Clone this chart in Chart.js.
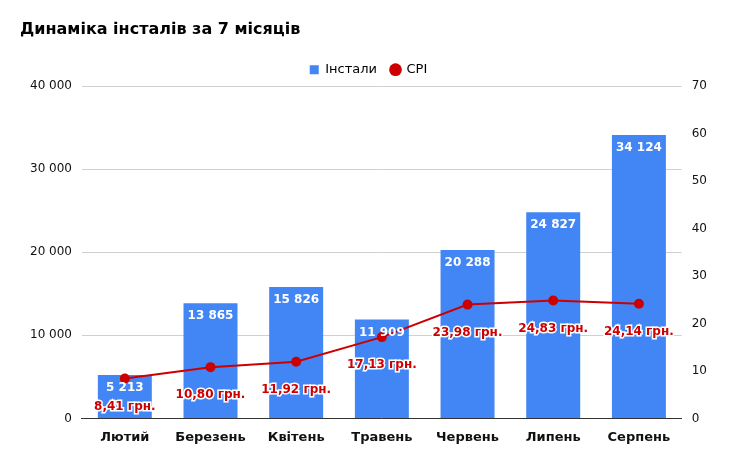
<!DOCTYPE html>
<html><head><meta charset="utf-8">
<script src="https://cdn.jsdelivr.net/npm/chart.js@4"></script>
<style>body{margin:0;background:#fff}#w{width:745px;height:462px;position:relative}</style>
</head><body><div id="w"><canvas id="c"></canvas></div>
<script>
const categories=["Лютий","Березень","Квітень","Травень","Червень","Липень","Серпень"];
const installs=[5213,13865,15826,11909,20288,24827,34124];
const cpi=[8.41,10.80,11.92,17.13,23.98,24.83,24.14];
const fmt=n=>String(n).replace(/\B(?=(\d{3})+(?!\d))/g," ");
const labels={id:"labels",afterDatasetsDraw(ch){const x=ch.ctx;x.save();x.textAlign="center";x.textBaseline="middle";
 ch.getDatasetMeta(1).data.forEach((b,i)=>{x.font="bold 12px 'DejaVu Sans'";x.fillStyle="#fff";x.fillText(fmt(installs[i]),b.x,b.y+13);});
 ch.getDatasetMeta(0).data.forEach((p,i)=>{x.font="bold 12px 'DejaVu Sans'";const t=cpi[i].toFixed(2).replace(".",",")+" грн.";x.lineWidth=3;x.strokeStyle="#fff";x.strokeText(t,p.x,p.y+28);x.fillStyle="#cc0000";x.fillText(t,p.x,p.y+28);});
 x.restore();}};
new Chart(document.getElementById("c"),{data:{labels:categories,datasets:[
 {type:"line",label:"CPI",data:cpi,yAxisID:"y1",borderColor:"#cc0000",backgroundColor:"#cc0000",borderWidth:2,pointRadius:4,order:0},
 {type:"bar",label:"Інстали",data:installs,yAxisID:"y",backgroundColor:"#4285f4",barPercentage:0.63,categoryPercentage:1,order:1}]},
 options:{responsive:true,maintainAspectRatio:false,animation:false,
 layout:{padding:{left:20,right:28,top:6,bottom:14}},
 plugins:{title:{display:true,text:"Динаміка інсталів за 7 місяців",align:"start",color:"#000",font:{family:"DejaVu Sans",size:16,weight:"bold"},padding:{top:14,bottom:10}},
 legend:{labels:{usePointStyle:true,boxWidth:9,boxHeight:9,padding:14,color:"#333",font:{family:"DejaVu Sans",size:13},
   generateLabels(ch){return [{text:"Інстали",fillStyle:"#4285f4",strokeStyle:"#4285f4",lineWidth:0,pointStyle:"rect",datasetIndex:1},{text:"CPI",fillStyle:"#cc0000",strokeStyle:"#cc0000",lineWidth:0,pointStyle:"circle",datasetIndex:0}];}}},
 tooltip:{enabled:false}},
 scales:{x:{grid:{display:false},border:{color:"#333"},ticks:{color:"#111",font:{family:"DejaVu Sans",size:13,weight:"bold"}}},
 y:{position:"left",min:0,max:40000,ticks:{stepSize:10000,padding:10,color:"#111",font:{family:"DejaVu Sans",size:12},callback:v=>fmt(v)},grid:{color:"#d0d0d0",drawTicks:false},border:{display:false}},
 y1:{position:"right",min:0,max:70,ticks:{stepSize:10,padding:10,color:"#111",font:{family:"DejaVu Sans",size:12}},grid:{display:false,drawTicks:false},border:{display:false}}}},
 plugins:[labels]});
</script></body></html>
